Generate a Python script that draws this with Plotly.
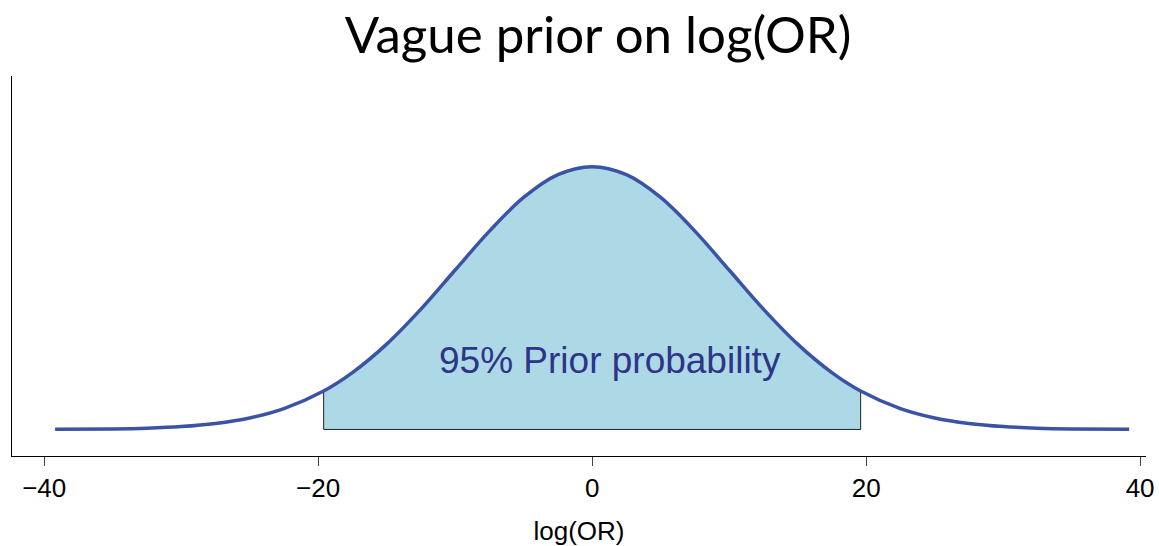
import plotly.graph_objects as go

# Prior density on log(OR): normal, mean 0, sd 10
x_vals = [-39.2, -35, -32.5, -30, -27.5, -25, -22.5, -19.6, -17.5, -15, -12.5, -10, -7.5, -5, -2.5,
          0, 2.5, 5, 7.5, 10, 12.5, 15, 17.5, 19.6, 22.5, 25, 27.5, 30, 32.5, 35, 39.2]
density = [0.000018, 0.000087, 0.00020, 0.00044, 0.00091, 0.00175, 0.00317, 0.00584, 0.00863,
           0.01295, 0.01826, 0.02420, 0.03011, 0.03521, 0.03867,
           0.03989, 0.03867, 0.03521, 0.03011, 0.02420, 0.01826, 0.01295, 0.00863, 0.00584,
           0.00317, 0.00175, 0.00091, 0.00044, 0.00020, 0.000087, 0.000018]

# central 95% interval
lower, upper = -19.6, 19.6
x_ticks = [-40, -20, 0, 20, 40]

inside = [(x, d) for x, d in zip(x_vals, density) if lower <= x <= upper]
x_in = [p[0] for p in inside]
d_in = [p[1] for p in inside]
d_lower = d_in[0]
d_upper = d_in[-1]

curve_color = "#3B53A5"
fill_color = "#ADD8E6"

fig = go.Figure()

# shaded 95% region
fig.add_trace(go.Scatter(
    x=x_in, y=d_in, mode="lines", line=dict(shape="spline", width=0, color=fill_color),
    fill="tozeroy", fillcolor=fill_color, hoverinfo="skip", showlegend=False))

# outline of the shaded region (sides and base)
fig.add_trace(go.Scatter(
    x=[lower, lower, upper, upper], y=[d_lower, 0, 0, d_upper], mode="lines",
    line=dict(color="#222222", width=1), hoverinfo="skip", showlegend=False))

# density curve
fig.add_trace(go.Scatter(
    x=x_vals, y=density, mode="lines", line=dict(shape="spline", color=curve_color, width=3.5),
    showlegend=False))

fig.add_annotation(
    x=1.3, y=0.0105, text="95% Prior probability", showarrow=False,
    font=dict(family="Liberation Sans, Arial", size=37, color="#2D3588"),
    xanchor="center", yanchor="middle")

fig.update_layout(
    width=1159, height=546,
    margin=dict(l=12, r=13, t=76, b=90),
    paper_bgcolor="white", plot_bgcolor="white",
    title=dict(text="Vague prior on log(OR)", xref="container", x=0.516, xanchor="center",
               yref="container", y=0.935, yanchor="middle",
               font=dict(family="Lato", size=51, color="black")),
    xaxis=dict(range=[-42.35, 40.43], tickvals=x_ticks, ticks="outside", ticklen=9,
               tickwidth=1.2, tickcolor="#444444", showline=True, linecolor="black", linewidth=1.3,
               showgrid=False, zeroline=False, automargin=False,
               tickfont=dict(family="Liberation Sans, Arial", size=26, color="black"),
               title=dict(text="log(OR)", standoff=19,
                          font=dict(family="Liberation Sans, Arial", size=26, color="black"))),
    yaxis=dict(range=[-0.00403, 0.05365], showline=True, linecolor="black", linewidth=1.3,
               showticklabels=False, ticks="", showgrid=False, zeroline=False, automargin=False),
)

fig.write_html("out.html")
